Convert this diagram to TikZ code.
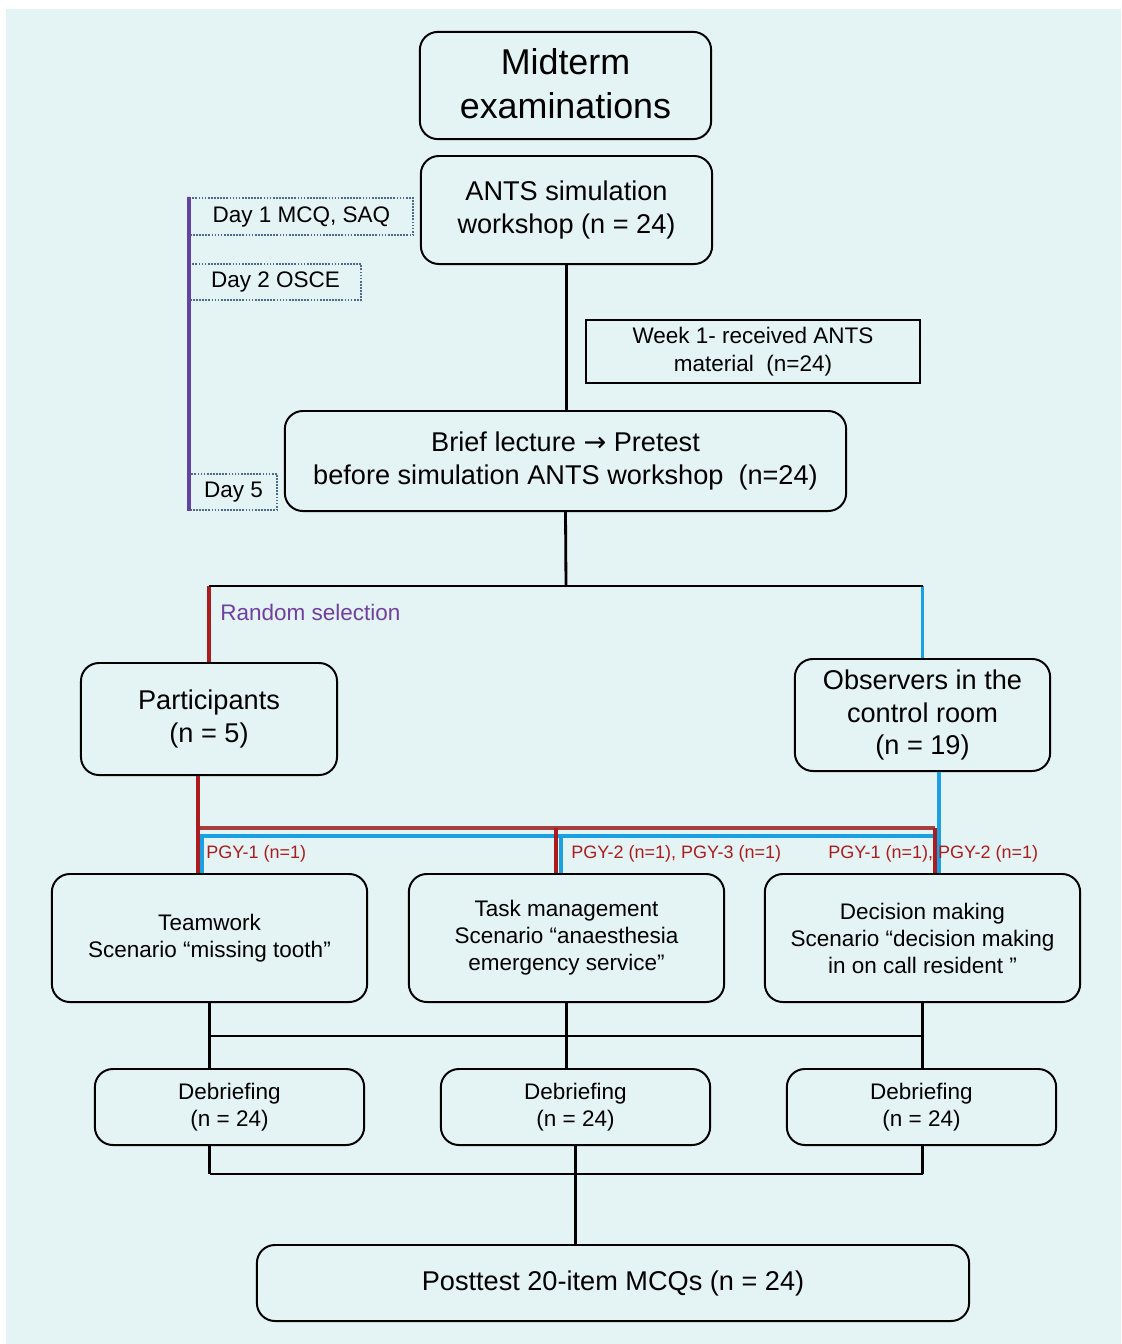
\documentclass[tikz,border=0pt]{standalone}
\usepackage{fontspec}
\setmainfont{Liberation Sans}
\newfontfamily\arrowfont{DejaVu Sans}

\definecolor{bgcol}{RGB}{228,243,243}
\definecolor{pgyred}{RGB}{172,28,30}
\definecolor{barred}{RGB}{165,62,62}
\definecolor{obsblue}{RGB}{27,161,226}
\definecolor{linepurple}{RGB}{98,68,160}
\definecolor{selpurple}{RGB}{112,64,160}
\definecolor{dotcol}{RGB}{80,104,138}

\begin{document}
\begin{tikzpicture}[x=0.025cm,y=-0.025cm]
    \tikzstyle{box}=[rectangle,rounded corners=0.45cm,draw=black,line width=1.4pt,align=center,inner sep=0pt,font=\fontsize{19.3}{23.4}\selectfont]
    \tikzstyle{small}=[font=\fontsize{16}{19.2}\selectfont]
    \tikzstyle{daybox}=[rectangle,draw=dotcol,line width=1.3pt,dash pattern=on 1.2pt off 1pt,align=center,inner sep=0pt,font=\fontsize{16}{19}\selectfont]
    \tikzstyle{link}=[draw=black,line width=2pt]
    \tikzstyle{redlink}=[draw=pgyred,line width=2.8pt]
    \tikzstyle{bluelink}=[draw=obsblue,line width=2.8pt]
    \tikzstyle{pgy}=[text=pgyred,anchor=west,inner sep=0pt,font=\fontsize{12.8}{15}\selectfont]

    \useasboundingbox (0,0) rectangle (1121,1344);
    \fill[bgcol] (6,9) rectangle (1121,1344);

    % top of the flow
    \node[box,minimum width=7.28cm,minimum height=2.68cm,font=\fontsize{25.5}{31}\selectfont] (mid) at (565.5,85.5) {\raisebox{3pt}{Midterm}\\\raisebox{3pt}{examinations}};
    \node[box,minimum width=7.28cm,minimum height=2.7cm] (ants) at (566.5,210) {ANTS simulation\\workshop (n = 24)};
    \node[rectangle,draw=black,line width=1.8pt,align=center,inner sep=0pt,minimum width=8.35cm,minimum height=1.58cm,font=\fontsize{16}{19.8}\selectfont] (week) at (753,351.5) {Week 1- received ANTS\\material\ \ (n=24)};
    \node[box,minimum width=14.03cm,minimum height=2.5cm] (brief) at (565.5,461) {Brief lecture {\arrowfont →} Pretest\\before simulation ANTS workshop\ \ (n=24)};

    % days of the week
    \node[daybox,minimum width=5.58cm,minimum height=0.93cm] (day1) at (301.5,216.5) {Day 1 MCQ, SAQ};
    \node[daybox,minimum width=4.28cm,minimum height=0.9cm] (day2) at (275.5,282) {Day 2 OSCE};
    \node[daybox,minimum width=2.18cm,minimum height=0.9cm] (day5) at (233.5,492) {Day 5};
    \draw[linepurple,line width=2.6pt] (day1.north west) -- (day5.south west);

    % split into participants and observers
    \node[box,minimum width=6.4cm,minimum height=2.8cm] (part) at (209,719) {Participants\\(n = 5)};
    \node[box,minimum width=6.38cm,minimum height=2.8cm] (obs) at (922.5,715) {Observers in the\\control room\\(n = 19)};
    \coordinate (split) at (566,586);

    \draw[link] (ants.south) -- (ants.south |- brief.north);
    \draw[link] (brief.south) -- (split);
    \draw[redlink] (split -| part.north) -- (part.north);
    \draw[bluelink] (split -| obs.north) -- (obs.north);
    \draw[link] (split -| part.north) -- (split -| obs.north);
    \node[anchor=west,inner sep=0pt,text=selpurple,font=\fontsize{16}{19}\selectfont] (rand) at (220,612) {Random selection};

    % scenarios
    \foreach \num/\x/\txt in {1/209.5/{Teamwork\\Scenario “missing tooth”},
                              2/566.5/{Task management\\Scenario “anaesthesia\\emergency service”},
                              3/922.5/{Decision making\\Scenario “decision making\\in on call resident ”}}
        \node[box,small,minimum width=7.88cm,minimum height=3.2cm] (S-\num) at (\x,938) {\txt};

    \coordinate (R-1) at (198,828);
    \coordinate (R-2) at (556,828);
    \coordinate (R-3) at (935,828);
    \coordinate (B-1) at (202,836);
    \coordinate (B-2) at (561,836);
    \coordinate (B-3) at (939,836);

    \draw[bluelink] (B-3 |- obs.south) -- (B-3 |- S-3.north);
    \draw[bluelink] (B-1 |- S-1.north) -- (B-1) -- (B-3);
    \draw[bluelink] (B-2) -- (B-2 |- S-2.north);
    \draw[redlink,draw=barred] (R-1) -- (R-3);
    \draw[redlink] (R-1 |- part.south) -- (R-1 |- S-1.north);
    \draw[redlink] (R-3) -- (R-3 |- S-3.north);
    \draw[redlink] (R-2) -- (R-2 |- S-2.north);

    \node[pgy] (pgy-1) at (206,854) {PGY-1 (n=1)};
    \node[pgy] (pgy-2) at (571,854) {PGY-2 (n=1), PGY-3 (n=1)};
    \node[pgy] (pgy-3) at (828,854) {PGY-1 (n=1), PGY-2 (n=1)};

    % debriefing and posttest
    \foreach \num/\x in {1/229.5, 2/575.5, 3/921.5}
        \node[box,small,minimum width=6.73cm,minimum height=1.9cm] (D-\num) at (\x,1107) {Debriefing\\(n = 24)};
    \node[box,minimum width=17.8cm,minimum height=1.9cm] (post) at (613,1283) {Posttest 20-item MCQs (n = 24)};

    \coordinate (top-join) at (566,1036);
    \coordinate (low-join) at (573,1174);

    \foreach \num in {1,2,3}
        \draw[link] (S-\num.south) -- (S-\num.south |- D-\num.north);
    \draw[link] (S-1.south |- top-join) -- (S-3.south |- top-join);
    \foreach \num in {1,3}
        \draw[link] (S-\num.south |- D-\num.south) -- (S-\num.south |- low-join);
    \draw[link] (S-1.south |- low-join) -- (S-3.south |- low-join);
    \draw[link] (D-2.south) -- (D-2.south |- post.north);
\end{tikzpicture}
\end{document}
